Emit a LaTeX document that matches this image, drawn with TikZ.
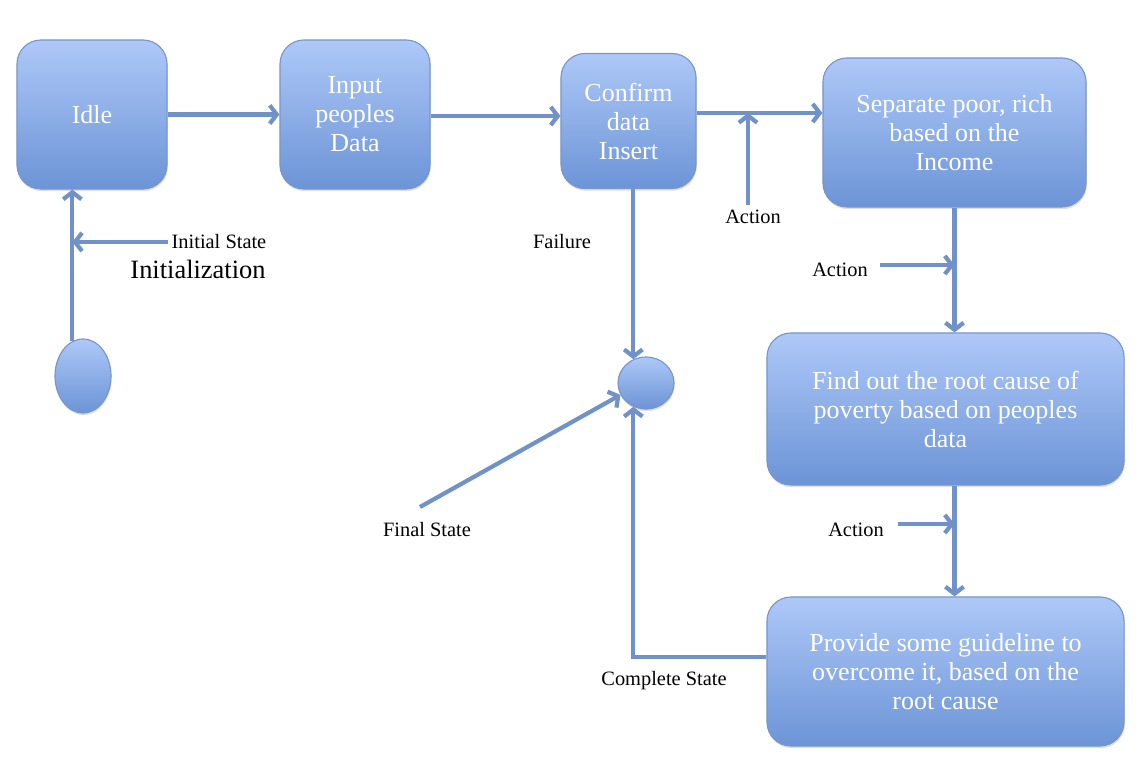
\documentclass[tikz,border=0pt]{standalone}
\usepackage{fontspec}
\setmainfont{Liberation Serif}
\usepackage{xcolor}
\usepackage{tikz}
\usetikzlibrary{arrows.meta,shapes.geometric,shadows}

\definecolor{boxtop}{RGB}{174,200,248}
\definecolor{boxbot}{RGB}{108,148,214}
\definecolor{boxline}{RGB}{118,150,204}
\definecolor{flow}{RGB}{112,146,201}

\tikzset{
  state/.style={draw=boxline, line width=0.8pt, rounded corners=0.6cm,
    top color=boxtop, bottom color=boxbot, text=white, align=center,
    font=\fontsize{18.5}{20.6}\selectfont,
    drop shadow={opacity=0.25, shadow xshift=0.5pt, shadow yshift=-1.5pt}},
  blob/.style={ellipse, draw=boxline, line width=0.8pt,
    top color=boxtop, bottom color=boxbot,
    drop shadow={opacity=0.25, shadow xshift=0.5pt, shadow yshift=-1.5pt}},
  link/.style={draw=flow, line width=3pt,
    -{Straight Barb[length=5pt,width=13pt]}},
  note/.style={font=\fontsize{14.5}{16}\selectfont, inner sep=1pt},
}

\begin{document}
\begin{tikzpicture}[x=0.025cm, y=-0.025cm]
  \useasboundingbox (0,0) rectangle (1148,769);

  % states
  \node[state, minimum width=3.75cm, minimum height=3.725cm]
    (idle) at (92,114.5) {Idle};
  \node[state, minimum width=3.75cm, minimum height=3.725cm]
    (input) at (355,114.5) {Input\\peoples\\Data};
  \node[state, minimum width=3.375cm, minimum height=3.375cm]
    (confirm) at (628.5,121) {Confirm\\data\\Insert};
  \node[state, minimum width=6.575cm, minimum height=3.725cm]
    (sep) at (954.5,132.5) {Separate poor, rich\\based on the\\Income};
  \node[state, minimum width=8.925cm, minimum height=3.8cm]
    (find) at (945.5,409) {Find out the root cause of\\poverty based on peoples\\data};
  \node[state, minimum width=8.925cm, minimum height=3.725cm]
    (provide) at (945.5,671.5) {Provide some guideline to\\overcome it, based on the\\root cause};

  % start and end
  \node[blob, minimum width=1.4cm, minimum height=1.85cm] (init) at (83,376) {};
  \node[blob, minimum width=1.4cm, minimum height=1.3cm] (final) at (646,383) {};

  % main flow
  \draw[link] (idle.east) -- (input.west);
  \draw[link] (input.east |- 0,116) -- (confirm.west |- 0,116);
  \draw[link] (confirm.east |- 0,113) -- (sep.west |- 0,113);
  \draw[link] (sep.south) -- (sep.south |- find.north);
  \draw[link] (sep.south |- find.south) -- (sep.south |- provide.north);
  \draw[link] (init.107) -- (init.107 |- idle.south);
  \draw[link] (final.118 |- confirm.south) -- (final.118);
  \draw[link] ([yshift=0.36cm]provide.west) -| (final.242);

  % side arrows and labels
  \coordinate (act1) at (748,205);
  \draw[link] (act1) -- (act1 |- 0,113);
  \node[note] (act1lbl) at (753,217) {Action};

  \coordinate (act2) at (880,265);
  \draw[link] (act2) -- (act2 -| sep.south);
  \node[note] (act2lbl) at (840,270) {Action};

  \coordinate (act3) at (898,524);
  \draw[link] (act3) -- (act3 -| sep.south);
  \node[note] (act3lbl) at (856,530) {Action};

  \coordinate (initstate) at (168,242);
  \draw[link] (initstate) -- (initstate -| init.107);
  \node[note, anchor=west] (initlbl) at (170,242) {Initial State};
  \node[font=\fontsize{18.8}{20}\selectfont] (initz) at (198,269) {Initialization};

  \coordinate (finalstate) at (420,507);
  \draw[link] (finalstate) -- (final.205);
  \node[note] (finallbl) at (427,530) {Final State};

  \node[note] (faillbl) at (562,242) {Failure};
  \node[note] (donelbl) at (664,681) {Complete State};
\end{tikzpicture}
\end{document}
